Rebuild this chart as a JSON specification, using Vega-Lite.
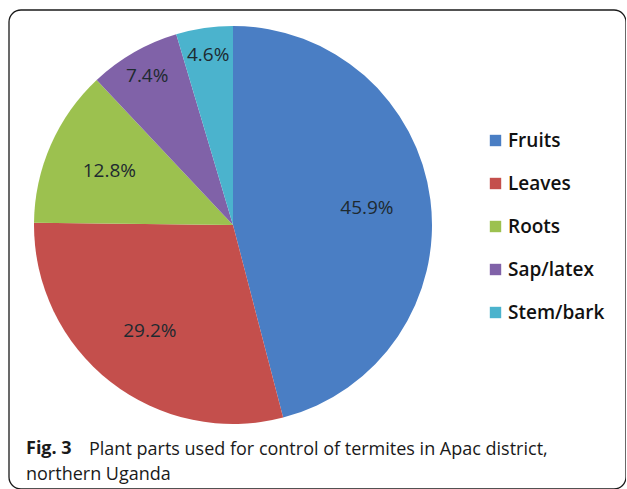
{
  "$schema": "https://vega.github.io/schema/vega-lite/v6.json",
  "autosize": "none",
  "width": 617,
  "height": 479,
  "padding": {"left": 9, "top": 10, "right": 0, "bottom": 0},
  "background": "white",
  "config": {
    "view": {"stroke": null},
    "font": "Open Sans"
  },
  "title": {
    "text": "Fig. 3",
    "subtitle": ["\u200b\u2003\u2003\u2003\u2002Plant parts used for control of termites in Apac district,", "northern Uganda"],
    "orient": "bottom",
    "anchor": "start",
    "frame": "group",
    "offset": -50,
    "dx": 17,
    "font": "Open Sans",
    "fontSize": 18,
    "fontWeight": "bold",
    "color": "#1a1a1a",
    "subtitleFont": "Open Sans",
    "subtitleFontSize": 18,
    "subtitleFontWeight": "normal",
    "subtitleColor": "#1a1a1a",
    "subtitleLineHeight": 25,
    "subtitlePadding": -17
  },
  "data": {
    "values": [
      {"part": "Fruits", "value": 45.9, "label": "45.9%"},
      {"part": "Leaves", "value": 29.2, "label": "29.2%"},
      {"part": "Roots", "value": 12.8, "label": "12.8%"},
      {"part": "Sap/latex", "value": 7.4, "label": "7.4%"},
      {"part": "Stem/bark", "value": 4.6, "label": "4.6%"}
    ]
  },
  "layer": [
    {
      "data": {"values": [{"frame": 1}]},
      "mark": {"type": "rect", "filled": false, "stroke": "#1a1a1a", "strokeWidth": 1.3, "cornerRadius": 12},
      "encoding": {
        "x": {"value": 0},
        "x2": {"value": "width"},
        "y": {"value": 0},
        "y2": {"value": "height"}
      }
    },
    {
      "mark": {"type": "arc", "outerRadius": 199, "x": 224, "y": 215},
      "encoding": {
        "theta": {"field": "value", "type": "quantitative", "stack": true},
        "order": {"field": "value", "type": "quantitative", "sort": "descending"},
        "color": {
          "field": "part",
          "type": "nominal",
          "scale": {
            "domain": ["Fruits", "Leaves", "Roots", "Sap/latex", "Stem/bark"],
            "range": ["#4a7ec4", "#c44f4c", "#9cc14f", "#8062a8", "#4bb3cd"]
          },
          "legend": {
            "title": null,
            "orient": "none",
            "legendX": 477,
            "legendY": 121,
            "symbolType": "square",
            "symbolSize": 130,
            "symbolStrokeWidth": 0,
            "labelFont": "Open Sans",
            "labelFontSize": 19,
            "labelFontWeight": 600,
            "labelColor": "#111111",
            "labelOffset": 3,
            "rowPadding": 23
          }
        }
      }
    },
    {
      "mark": {"type": "text", "radius": 135, "x": 224, "y": 215, "fontSize": 19, "font": "Open Sans"},
      "encoding": {
        "theta": {"field": "value", "type": "quantitative", "stack": true},
        "order": {"field": "value", "type": "quantitative", "sort": "descending"},
        "text": {"field": "label"},
        "color": {"value": "#1e2a30"},
        "opacity": {"condition": {"test": "datum.value < 10", "value": 0}, "value": 1}
      }
    },
    {
      "mark": {"type": "text", "radius": 172, "x": 224, "y": 215, "fontSize": 19, "font": "Open Sans"},
      "encoding": {
        "theta": {"field": "value", "type": "quantitative", "stack": true},
        "order": {"field": "value", "type": "quantitative", "sort": "descending"},
        "text": {"field": "label"},
        "color": {"value": "#1e2a30"},
        "opacity": {"condition": {"test": "datum.value >= 10", "value": 0}, "value": 1}
      }
    }
  ]
}
